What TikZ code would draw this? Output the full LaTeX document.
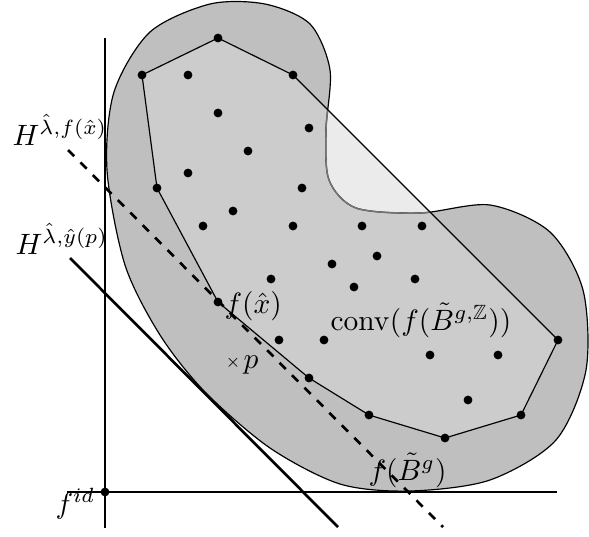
\documentclass[tikz,border=0pt]{standalone}
\usepackage{amsmath,amssymb}

\begin{document}
\begin{tikzpicture}[x=0.34pt,y=-0.34pt,
  lattice/.style={circle,fill=black,inner sep=0pt,minimum size=3pt},
  lbl/.style={anchor=base west,inner sep=0pt},
  heavy/.style={line width=0.9pt}]
\useasboundingbox (0,0) rectangle (589,536);

% Image set (blob), kept for reuse
\path[save path=\blobpath] plot[smooth cycle] coordinates {
  (107,170) (114,92) (150,32) (210,4) (265,4) (310,24) (330,70) (326,130)
  (329,180) (356,208) (420,213) (490,205) (550,232) (583,290) (586,370)
  (556,440) (490,480) (410,491) (340,484) (270,448) (205,392) (160,335)
  (125,265)};

% Hull vertices
\coordinate (v1) at (142,75);
\coordinate (v2) at (218,38);
\coordinate (v3) at (293,75);
\coordinate (v4) at (558,340);
\coordinate (v5) at (521,415);
\coordinate (v6) at (445,438);
\coordinate (v7) at (369,415);
\coordinate (v8) at (309,378);
\coordinate (v9) at (218,302);
\coordinate (v10) at (157,188);

% Fills
\fill[black!25, use path=\blobpath];
\fill[black!8] (v1) -- (v2) -- (v3) -- (v4) -- (v5) -- (v6) -- (v7) -- (v8) -- (v9) -- (v10) -- cycle;
\begin{scope}
  \clip (v1) -- (v2) -- (v3) -- (v4) -- (v5) -- (v6) -- (v7) -- (v8) -- (v9) -- (v10) -- cycle;
  \fill[black!20, use path=\blobpath];
\end{scope}

% Blob outline (grey where it lies in the hull)
\draw[line width=0.4pt, use path=\blobpath];
\begin{scope}
  \clip (v1) -- (v2) -- (v3) -- (v4) -- (v5) -- (v6) -- (v7) -- (v8) -- (v9) -- (v10) -- cycle;
  \draw[black!55, line width=0.5pt, use path=\blobpath];
\end{scope}

% Hull edges
\draw[line width=0.4pt] (v1) -- (v2) -- (v3) -- (v4) -- (v5) -- (v6) -- (v7) -- (v8) -- (v9) -- (v10) -- cycle;

% Axes
\coordinate (ytop) at (105,38);
\coordinate (ybot) at (105,528);
\coordinate (xleft) at (67,492);
\coordinate (xright) at (557,492);
\draw[heavy] (ytop) -- (ybot);
\draw[heavy] (xleft) -- (xright);
\node[lattice] (fid) at (105,492) {};

% Hyperplanes
\coordinate (hx1) at (68,150);
\coordinate (hx2) at (443,527);
\coordinate (hy1) at (70,258);
\coordinate (hy2) at (338,527);
\draw[heavy, dashed] (hx1) -- (hx2);
\draw[heavy] (hy1) -- (hy2);

% Points
\foreach \i in {1,...,10} \node[lattice] (d\i) at (v\i) {};
\foreach \x/\y [count=\k] in {188/75, 218/113, 309/128, 248/151, 188/173, 302/188,
  203/226, 233/211, 293/226, 362/226, 422/226, 377/256, 332/264, 271/279,
  354/287, 415/279, 279/340, 324/340, 430/355, 498/355, 468/400}
  \node[lattice] (q\k) at (\x,\y) {};

% p
\node[font=\tiny, inner sep=0pt] (p) at (233,363) {$\times$};

% Labels
\node[lbl] (hfx) at (12,145) {$H^{\hat{\lambda},f(\hat{x})}$};
\node[lbl] (hyp) at (15,254) {$H^{\hat{\lambda},\hat{y}(p)}$};
\node[lbl] (fidlbl) at (55,513) {$f^{id}$};
\node[lbl] (fxlbl) at (224,313) {$f(\hat{x})$};
\node[lbl] (plbl) at (243,368) {$p$};
\node[lbl] (convlbl) at (330,330) {$\operatorname{conv}(f(\tilde{B}^{g,\mathbb{Z}}))$};
\node[lbl] (fblbl) at (368,480) {$f(\tilde{B}^g)$};
\end{tikzpicture}
\end{document}
